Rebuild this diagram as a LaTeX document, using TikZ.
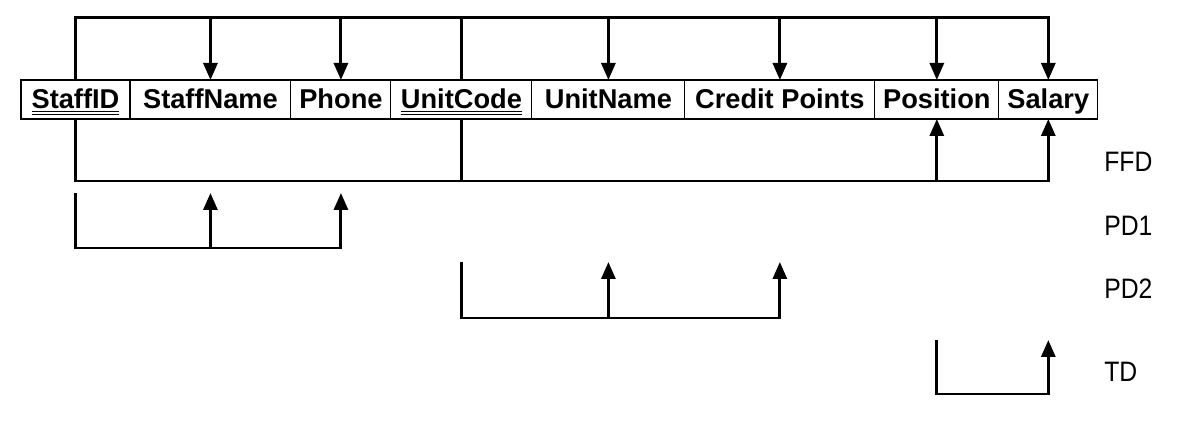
\documentclass[tikz,border=0pt]{standalone}
\usepackage{fontspec}
\setmainfont{Liberation Sans}
\newfontfamily\tagfont{Liberation Sans}[FakeStretch=0.88]
\usepackage{tikz}
\usetikzlibrary{calc}
\usetikzlibrary{arrows.meta}
\usetikzlibrary{positioning}
\newcommand{\keyattr}[1]{\underline{\underline{#1}}}
\tikzset{
  attr/.style={draw=black, line width=0.6pt, outer sep=0pt, inner sep=0pt,
               minimum height=0.78cm, text height=0.46cm, text depth=0.10cm,
               font=\fontsize{15.5}{18}\selectfont\bfseries},
  tie/.style={line width=1.7pt},
  dep/.style={line width=1.7pt, -{Triangle[length=0.34cm, width=0.28cm]}},
  tag/.style={anchor=base west, inner sep=0pt, font=\tagfont\fontsize{16}{19}\selectfont}
}

\begin{document}
\begin{tikzpicture}[x=0.02cm, y=-0.02cm]
            % Frame to ensure alignment:
            \useasboundingbox (0,0) rectangle (1189,421);
            % Relation:
            \node[attr, minimum width=2.18cm, anchor=west]           (staffid)   at (21,99.5) {\keyattr{StaffID}};
            \node[attr, minimum width=3.22cm, right=0pt of staffid]   (staffname) {StaffName};
            \node[attr, minimum width=2.00cm, right=0pt of staffname] (phone)     {Phone};
            \node[attr, minimum width=2.82cm, right=0pt of phone]     (unitcode)  {\keyattr{UnitCode}};
            \node[attr, minimum width=3.06cm, right=0pt of unitcode]  (unitname)  {UnitName};
            \node[attr, minimum width=3.80cm, right=0pt of unitname]  (credit)    {Credit Points};
            \node[attr, minimum width=2.48cm, right=0pt of credit]    (position)  {Position};
            \node[attr, minimum width=1.98cm, right=0pt of position]  (salary)    {Salary};
            % Levels:
            \coordinate (lvltop)  at (0, 18);
            \coordinate (lvlffd)  at (0,181);
            \coordinate (pdatop)  at (0,193);
            \coordinate (pdabot)  at (0,248);
            \coordinate (pdbtop)  at (0,262);
            \coordinate (pdbbot)  at (0,318);
            \coordinate (tdtop)   at (0,340);
            \coordinate (tdbot)   at (0,394);
            % Labels:
            \node[tag] (ffdlabel) at (1104,172) {FFD};
            \node[tag] (pdalabel) at (1104,236) {PD1};
            \node[tag] (pdblabel) at (1104,299) {PD2};
            \node[tag] (tdlabel)  at (1104,382) {TD};
            % Top bracket:
            \draw[dep] (staffid.north) |- (lvltop -| salary) -- (salary.north);
            \draw[tie] (unitcode.north) -- (unitcode.north |- lvltop);
            \foreach \a in {staffname,phone,unitname,credit,position}
                \draw[dep] (\a.north |- lvltop) -- (\a.north);
            % FFD:
            \draw[dep] (staffid.south) |- (lvlffd -| salary) -- (salary.south);
            \draw[tie] (unitcode.south) -- (unitcode.south |- lvlffd);
            \draw[dep] (position.south |- lvlffd) -- (position.south);
            % PD1:
            \draw[dep] (staffid.south |- pdatop) |- (pdabot -| phone) -- (phone.south |- pdatop);
            \draw[dep] (staffname.south |- pdabot) -- (staffname.south |- pdatop);
            % PD2:
            \draw[dep] (unitcode.south |- pdbtop) |- (pdbbot -| credit) -- (credit.south |- pdbtop);
            \draw[dep] (unitname.south |- pdbbot) -- (unitname.south |- pdbtop);
            % TD:
            \draw[dep] (position.south |- tdtop) |- (tdbot -| salary) -- (salary.south |- tdtop);
        \end{tikzpicture}
\end{document}
